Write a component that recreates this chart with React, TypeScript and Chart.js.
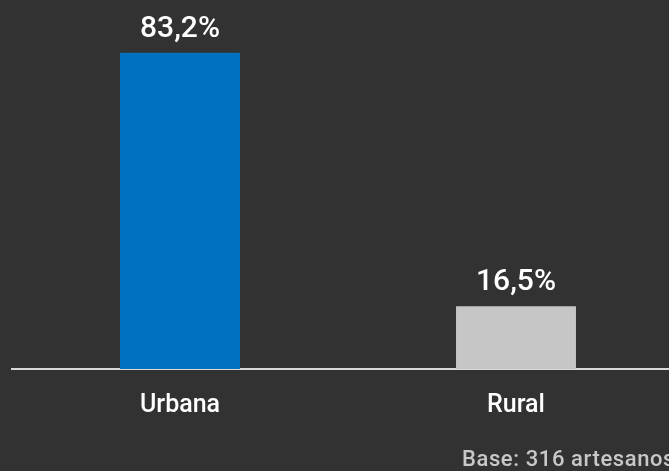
import React, { useEffect, useRef } from "react";
import { Chart, registerables } from "chart.js";

Chart.register(...registerables);

const categories = ["Urbana", "Rural"];
const values = [83.2, 16.5];
const valueLabels = ["83,2%", "16,5%"];
const barColors = ["#0070c0", "#c6c6c6"];
const footnote = "Base: 316 artesanos";

const FONT = "Roboto, 'DejaVu Sans', sans-serif";

const labelPlugin = {
  id: "valueLabels",
  afterDatasetsDraw(chart: any) {
    const ctx = chart.ctx;
    const meta = chart.getDatasetMeta(0);
    ctx.save();
    ctx.fillStyle = "#ffffff";
    ctx.font = `500 30px ${FONT}`;
    ctx.textAlign = "center";
    ctx.textBaseline = "alphabetic";
    meta.data.forEach((bar: any, i: number) => {
      ctx.fillText(valueLabels[i], bar.x, bar.y - 16);
    });
    ctx.restore();
  },
};

export default function App() {
  const ref = useRef<HTMLCanvasElement | null>(null);
  useEffect(() => {
    if (!ref.current) return;
    const chart = new Chart(ref.current, {
      type: "bar",
      data: {
        labels: categories,
        datasets: [
          {
            data: values,
            backgroundColor: barColors,
            borderWidth: 0,
            barPercentage: 0.357,
            categoryPercentage: 1,
          },
        ],
      },
      options: {
        animation: false,
        responsive: false,
        maintainAspectRatio: false,
        layout: { padding: { left: 12, top: 27, right: 0, bottom: 0 } },
        plugins: { legend: { display: false }, tooltip: { enabled: false } },
        scales: {
          x: {
            grid: { display: false, drawTicks: false },
            border: { display: true, color: "#d9d9d9", width: 2 },
            ticks: {
              color: "#ffffff",
              font: { family: FONT, size: 25, weight: "500" },
              padding: 22,
            },
            afterFit(scale: any) {
              scale.height = 102;
            },
          },
          y: {
            display: false,
            min: 0,
            max: 90,
          },
        },
      },
      plugins: [labelPlugin],
    });
    return () => chart.destroy();
  }, []);
  return (
    <div
      style={{
        position: "fixed",
        left: 0,
        top: 0,
        width: 669,
        height: 471,
        overflow: "hidden",
        background: "#323232",
      }}
    >
      <canvas
        ref={ref}
        width={684}
        height={471}
        style={{ position: "absolute", left: 0, top: 0, width: 684, height: 471 }}
      />
      <div
        style={{
          position: "absolute",
          left: 462,
          top: 446,
          color: "#c8c8c8",
          fontFamily: FONT,
          fontSize: 22,
          fontWeight: 500,
          letterSpacing: 0.6,
          whiteSpace: "nowrap",
        }}
      >
        {footnote}
      </div>
    </div>
  );
}
